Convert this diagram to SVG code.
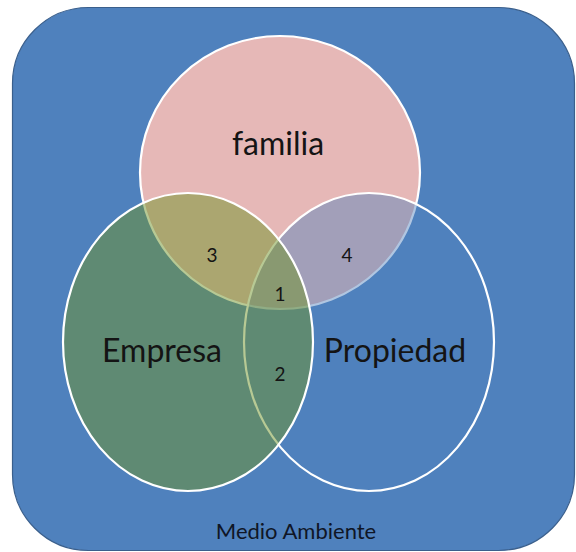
<svg xmlns="http://www.w3.org/2000/svg" width="576" height="552" viewBox="0 0 576 552">
<style>
.lbl{font-family:Lato,"Noto Sans",sans-serif;fill:#141414;text-anchor:middle}
.big{font-size:32px}
.num{font-size:19px}
.set{stroke:#ffffff;stroke-width:2.2}
</style>
<rect width="576" height="552" fill="#ffffff"/>
<g id="medio-ambiente">
<rect x="12.5" y="7.5" width="562" height="543" rx="76" ry="76" fill="#4f81bd" stroke="#3a5f8c" stroke-width="1.2"/>
<text class="lbl" x="296" y="539" style="font-size:22px;fill:#0f1626">Medio Ambiente</text>
</g>
<g id="familia">
<ellipse class="set" cx="280" cy="172.5" rx="140" ry="136.5" fill="#e6b8b7"/>
</g>
<g id="propiedad">
<ellipse class="set" cx="369" cy="342" rx="125" ry="149" fill="#4f81bd" fill-opacity="0.45"/>
</g>
<g id="empresa">
<ellipse class="set" cx="188" cy="342" rx="125" ry="149" fill="#6f9329" fill-opacity="0.5"/>
</g>
<g id="connectors"></g>
<g id="labels">
<text class="lbl big" x="278" y="155">familia</text>
<text class="lbl big" x="162" y="362">Empresa</text>
<text class="lbl big" x="395" y="362">Propiedad</text>
<text class="lbl num" x="212" y="262">3</text>
<text class="lbl num" x="347" y="262">4</text>
<text class="lbl num" x="280" y="301">1</text>
<text class="lbl num" x="280" y="381">2</text>
</g>
</svg>
